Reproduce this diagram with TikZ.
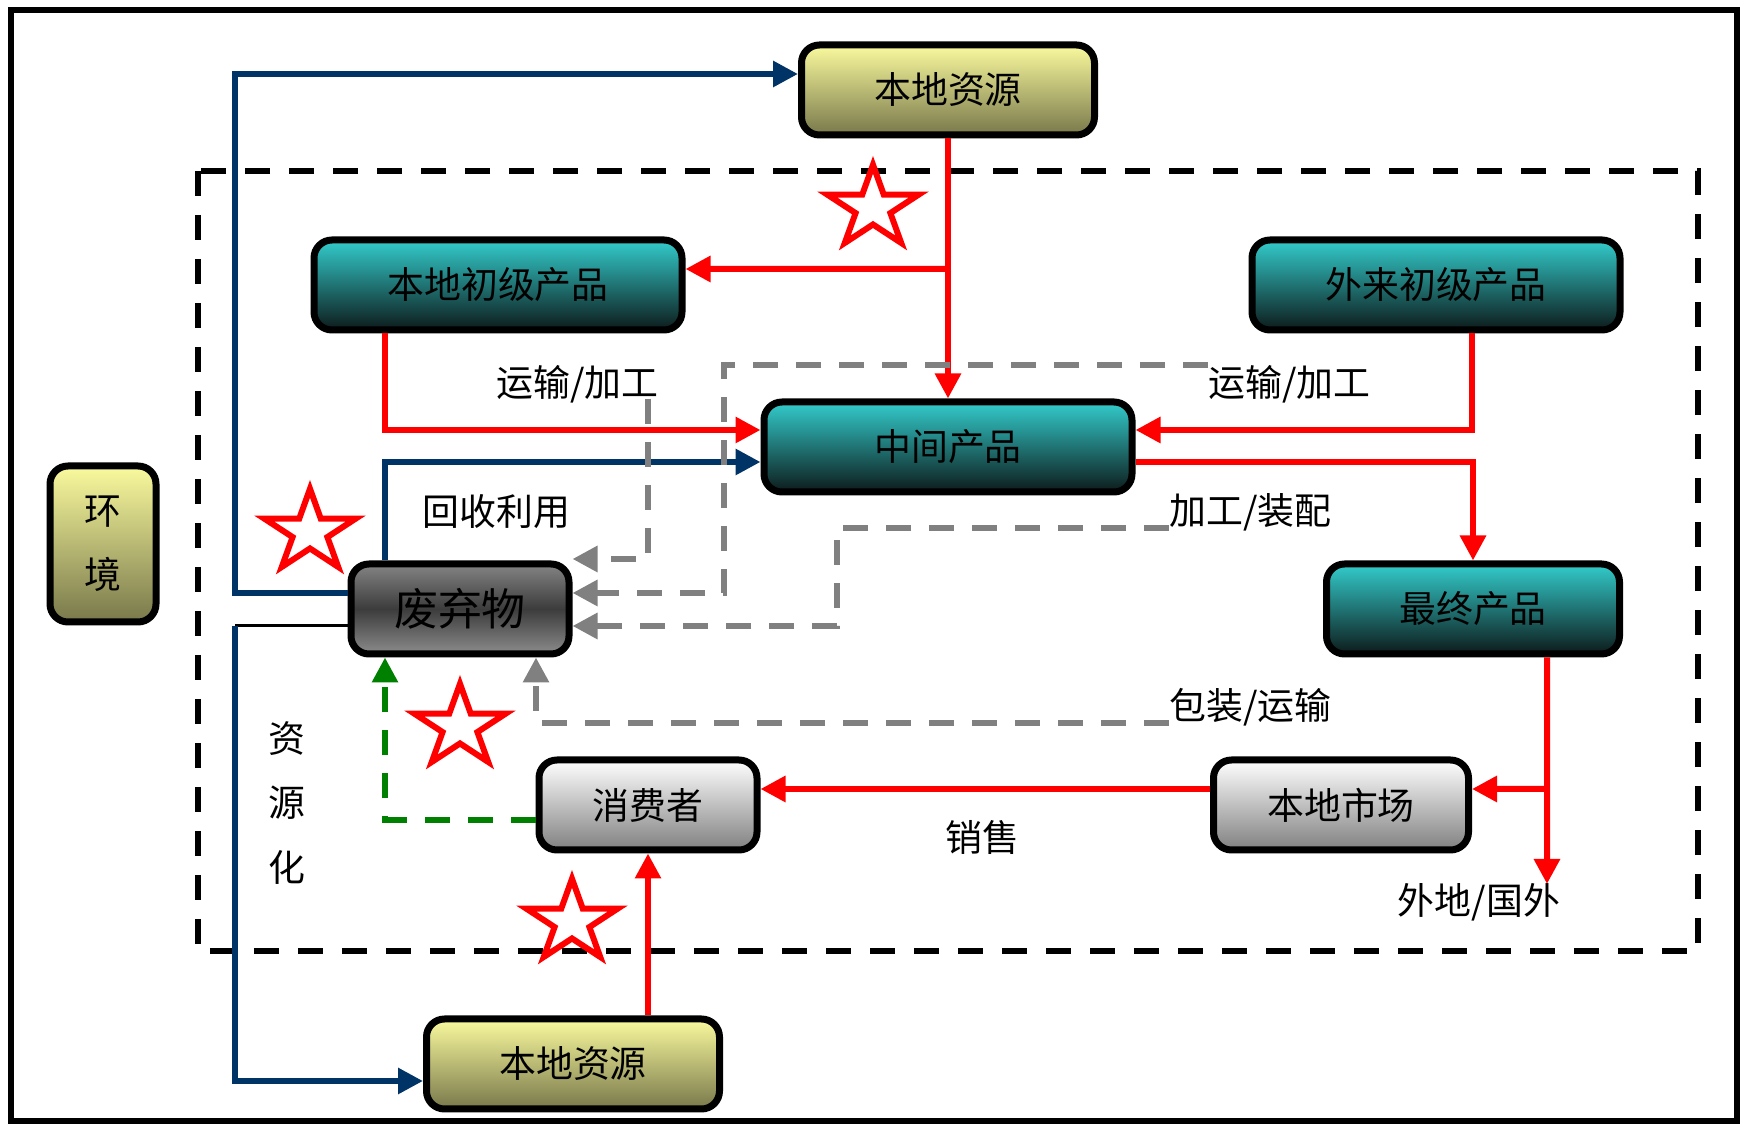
\documentclass[tikz,border=0pt]{standalone}
\usepackage{fontspec}
\newfontfamily\cjk{Noto Sans CJK SC}
\usetikzlibrary{arrows.meta}
\definecolor{flowred}{HTML}{FF0000}
\definecolor{flowblue}{HTML}{003366}
\definecolor{flowgreen}{HTML}{008000}
\definecolor{flowgray}{HTML}{808080}
\definecolor{yellowtop}{HTML}{FAFA9E}
\definecolor{yellowbot}{HTML}{78784B}
\definecolor{tealtop}{HTML}{33CCCC}
\definecolor{tealbot}{HTML}{0D1A1A}
\definecolor{wastetop}{HTML}{848484}
\definecolor{wastemid}{HTML}{3C3C3C}
\definecolor{wastebot}{HTML}{8C8C8C}

\begin{document}
\begin{tikzpicture}[x=1cm,y=1cm,>={Triangle[length=2.5mm,width=2.5mm]},font=\cjk\fontsize{10.5}{12}\selectfont]
  \tikzstyle{box}=[draw=black, line width=0.7mm, rounded corners=1.8mm, align=center, minimum height=0.90cm, inner sep=1pt]
  \tikzstyle{resbox}=[box, top color=yellowtop, bottom color=yellowbot, minimum width=2.93cm]
  \tikzstyle{prodbox}=[box, top color=tealtop, bottom color=tealbot, minimum width=3.68cm]
  \tikzstyle{marketbox}=[box, top color=white, bottom color=flowgray]
  \tikzstyle{wastebox}=[box, top color=wastetop, bottom color=wastebot, middle color=wastemid, minimum width=2.18cm, font=\cjk\fontsize{12.5}{14}\selectfont]
  \tikzstyle{lbl}=[inner sep=0pt, align=center]
  \tikzstyle{redarrow}=[->, line width=0.6mm, draw=flowred]
  \tikzstyle{bluearrow}=[->, line width=0.6mm, draw=flowblue]
  \tikzstyle{grayarrow}=[->, line width=0.6mm, draw=flowgray, dash pattern=on 2.5mm off 1.8mm]
  \tikzstyle{greenarrow}=[->, line width=0.6mm, draw=flowgreen, dash pattern=on 2.5mm off 1.8mm]
  \tikzstyle{starline}=[draw=flowred, fill=white, line width=0.6mm, line join=miter]

  \fill[white] (0,0) rectangle (17.54,-11.41);
  \path[use as bounding box] (0,0) rectangle (17.54,-11.41);

  % frames
  \draw[line width=0.6mm] (0.11,-0.10) rectangle (17.37,-11.21);
  \draw[line width=0.65mm, dash pattern=on 2.5mm off 1.9mm] (1.98,-1.71) rectangle (16.98,-9.51);

  % boxes
  \node[resbox] (restop) at (9.48,-0.90) {本地资源};
  \node[prodbox] (prim1) at (4.98,-2.85) {本地初级产品};
  \node[prodbox] (prim2) at (14.36,-2.85) {外来初级产品};
  \node[prodbox] (mid) at (9.48,-4.47) {中间产品};
  \node[prodbox, minimum width=2.93cm] (final) at (14.73,-6.09) {最终产品};
  \node[wastebox] (waste) at (4.60,-6.09) {废弃物};
  \node[marketbox, minimum width=2.18cm] (consumer) at (6.48,-8.05) {消费者};
  \node[marketbox, minimum width=2.55cm] (market) at (13.41,-8.05) {本地市场};
  \node[resbox, minimum width=1.06cm, minimum height=1.56cm] (env) at (1.03,-5.44) {环\\[2.2mm]境};
  \node[resbox] (resbot) at (5.73,-10.64) {本地资源};

  % labels
  \node[lbl, anchor=west] (trans1) at (4.96,-3.84) {运输/加工};
  \node[lbl, anchor=west] (trans2) at (12.08,-3.84) {运输/加工};
  \node[lbl, anchor=west] (recycle) at (4.22,-5.12) {回收利用};
  \node[lbl, anchor=west] (assemble) at (11.69,-5.12) {加工/装配};
  \node[lbl, anchor=west] (pack) at (11.69,-7.07) {包装/运输};
  \node[lbl] (sale) at (9.82,-8.37) {销售};
  \node[lbl] (abroadlbl) at (14.79,-9.02) {外地/国外};
  \node[lbl] (reuse) at (2.87,-8.03) {资\\[2.2mm]源\\[2.2mm]化};

  % blue flows
  \draw[bluearrow] ([yshift=1.6mm]waste.west) -- ++(-1.13,0) |- ([yshift=1.6mm]restop.west);
  \draw[line width=0.3mm] ([yshift=-1.7mm]waste.west) -- ++(-1.13,0) coordinate (down);
  \draw[bluearrow] (down) |- ([yshift=-1.7mm]resbot.west);
  \draw[bluearrow] ([xshift=-7.5mm]waste.north) |- ([yshift=-1.5mm]mid.west);

  % red flows
  \draw[redarrow] (restop.south) -- (mid.north);
  \coordinate (split1) at (9.48,-2.69);
  \draw[redarrow] (split1) -- ([yshift=1.6mm]prim1.east);
  \draw[redarrow] ([xshift=-11.3mm]prim1.south) |- ([yshift=1.7mm]mid.west);
  \draw[redarrow] ([xshift=3.6mm]prim2.south) |- ([yshift=1.7mm]mid.east);
  \draw[redarrow] ([yshift=-1.5mm]mid.east) -| (final.north);
  \coordinate (abroad) at (15.47,-8.84);
  \draw[redarrow] ([xshift=7.4mm]final.south) -- (abroad);
  \coordinate (split2) at (15.47,-7.89);
  \draw[redarrow] (split2) -- ([yshift=1.6mm]market.east);
  \draw[redarrow] ([yshift=1.6mm]market.west) -- ([yshift=1.6mm]consumer.east);
  \draw[redarrow] ([xshift=7.5mm]resbot.north) -- (consumer.south);

  % waste returns
  \draw[greenarrow] ([yshift=-1.5mm]consumer.west) -| ([xshift=-7.5mm]waste.south);
  \coordinate (g1) at (6.48,-3.99);
  \coordinate (g2) at (12.08,-3.65);
  \coordinate (g3) at (11.69,-5.28);
  \coordinate (g4) at (11.69,-7.23);
  \draw[grayarrow] (g1) |- ([yshift=5mm]waste.east);
  \draw[grayarrow] (g2) -- ++(-4.84,0) |- ([yshift=1.6mm]waste.east);
  \draw[grayarrow] (g3) -- ++(-3.32,0) |- ([yshift=-1.7mm]waste.east);
  \draw[grayarrow] (g4) -| ([xshift=7.6mm]waste.south);

  % stars
  \foreach \sx/\sy in {8.73/-2.08, 3.10/-5.32, 4.60/-7.27, 5.72/-9.22}
    \draw[starline, shift={(\sx,\sy)}, yscale=0.9] (90:0.48) -- (126:0.183) -- (162:0.48) -- (198:0.183) -- (234:0.48) -- (270:0.183) -- (306:0.48) -- (342:0.183) -- (18:0.48) -- (54:0.183) -- cycle;
\end{tikzpicture}
\end{document}
